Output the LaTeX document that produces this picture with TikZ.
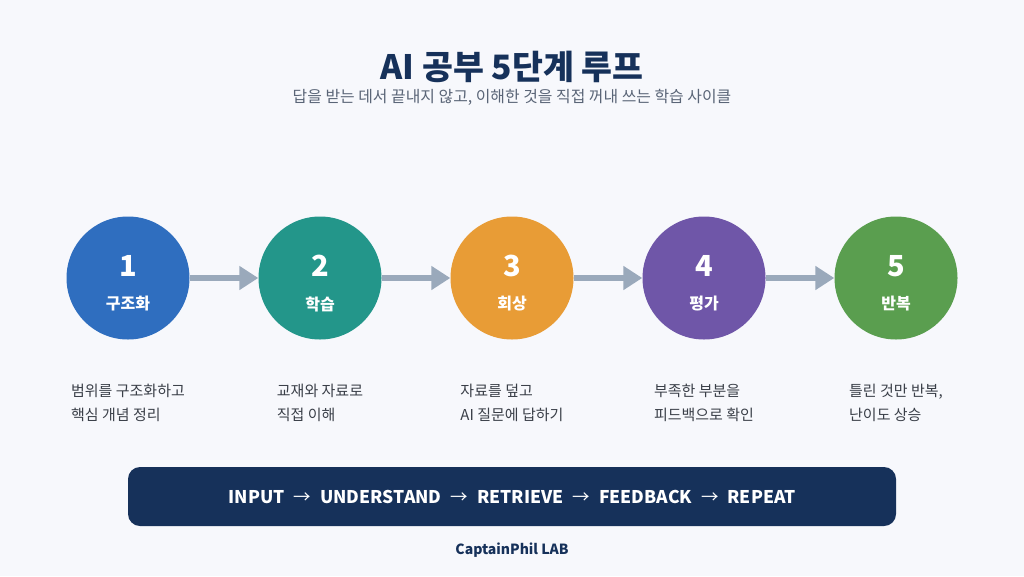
\documentclass[tikz,border=0pt]{standalone}
\usepackage{fontspec}
\setmainfont{Noto Sans CJK KR}
\usetikzlibrary{arrows.meta}
\definecolor{bg}{HTML}{F7F8FC}
\definecolor{navy}{HTML}{16315A}
\definecolor{subgray}{HTML}{5A6577}
\definecolor{desc}{HTML}{3A3F48}
\definecolor{arrowc}{HTML}{9AA9BB}
\definecolor{cblue}{HTML}{2F6EBF}
\definecolor{cteal}{HTML}{23968A}
\definecolor{corange}{HTML}{E89C36}
\definecolor{cpurple}{HTML}{6F56A8}
\definecolor{cgreen}{HTML}{5A9E4F}
\newcommand{\flowarr}{\hspace{9pt}{\mdseries →}\hspace{9pt}}
\tikzset{
  stepcircle/.style={circle, minimum size=123pt, inner sep=0pt, draw=none},
  numtext/.style={text=white, font=\fontsize{29}{34}\selectfont\bfseries},
  labtext/.style={text=white, font=\fontsize{16}{20}\selectfont\bfseries},
  desctext/.style={text=desc, align=left, font=\fontsize{15}{24}\selectfont},
  flow/.style={draw=arrowc, line width=6pt, -{Triangle[length=19pt,width=23pt]}},
}
\begin{document}
\begin{tikzpicture}[x=1pt,y=-1pt]
\fill[bg] (0,0) rectangle (1024,576);
\useasboundingbox (0,0) rectangle (1024,576);
\node[text=navy, font=\fontsize{33.6}{38}\selectfont\bfseries] (title) at (512,67) {AI 공부 5단계 루프};
\node[text=subgray, font=\fontsize{15.9}{19}\selectfont] (subtitle) at (512,97) {답을 받는 데서 끝내지 않고, 이해한 것을 직접 꺼내 쓰는 학습 사이클};
\node[stepcircle, fill=cblue] (c1) at (128,278) {};
\node[stepcircle, fill=cteal] (c2) at (320,278) {};
\node[stepcircle, fill=corange] (c3) at (512,278) {};
\node[stepcircle, fill=cpurple] (c4) at (704,278) {};
\node[stepcircle, fill=cgreen] (c5) at (896,278) {};
\node[numtext] (n1) at (128,266) {1};
\node[numtext] (n2) at (320,266) {2};
\node[numtext] (n3) at (512,266) {3};
\node[numtext] (n4) at (704,266) {4};
\node[numtext] (n5) at (896,266) {5};
\node[labtext] (l1) at (128,304) {구조화};
\node[labtext] (l2) at (320,304) {학습};
\node[labtext] (l3) at (512,304) {회상};
\node[labtext] (l4) at (704,304) {평가};
\node[labtext] (l5) at (896,304) {반복};
\draw[flow] (c1) -- (c2);
\draw[flow] (c2) -- (c3);
\draw[flow] (c3) -- (c4);
\draw[flow] (c4) -- (c5);
\node[desctext] (d1) at (128,403) {범위를 구조화하고\\핵심 개념 정리};
\node[desctext] (d2) at (320,403) {교재와 자료로\\직접 이해};
\node[desctext] (d3) at (512,403) {자료를 덮고\\AI 질문에 답하기};
\node[desctext] (d4) at (704,403) {부족한 부분을\\피드백으로 확인};
\node[desctext] (d5) at (896,403) {틀린 것만 반복,\\난이도 상승};
\node[fill=navy, rounded corners=12pt, minimum width=768pt, minimum height=59pt, inner sep=0pt] (band) at (512,496.5) {};
\node[text=white, font=\fontsize{17.5}{21}\selectfont\bfseries] (flowtext) at (band.center) {INPUT\flowarr UNDERSTAND\flowarr RETRIEVE\flowarr FEEDBACK\flowarr REPEAT};
\node[text=navy, font=\fontsize{14}{17}\selectfont\bfseries] (footer) at (512,550) {CaptainPhil LAB};
\end{tikzpicture}
\end{document}
